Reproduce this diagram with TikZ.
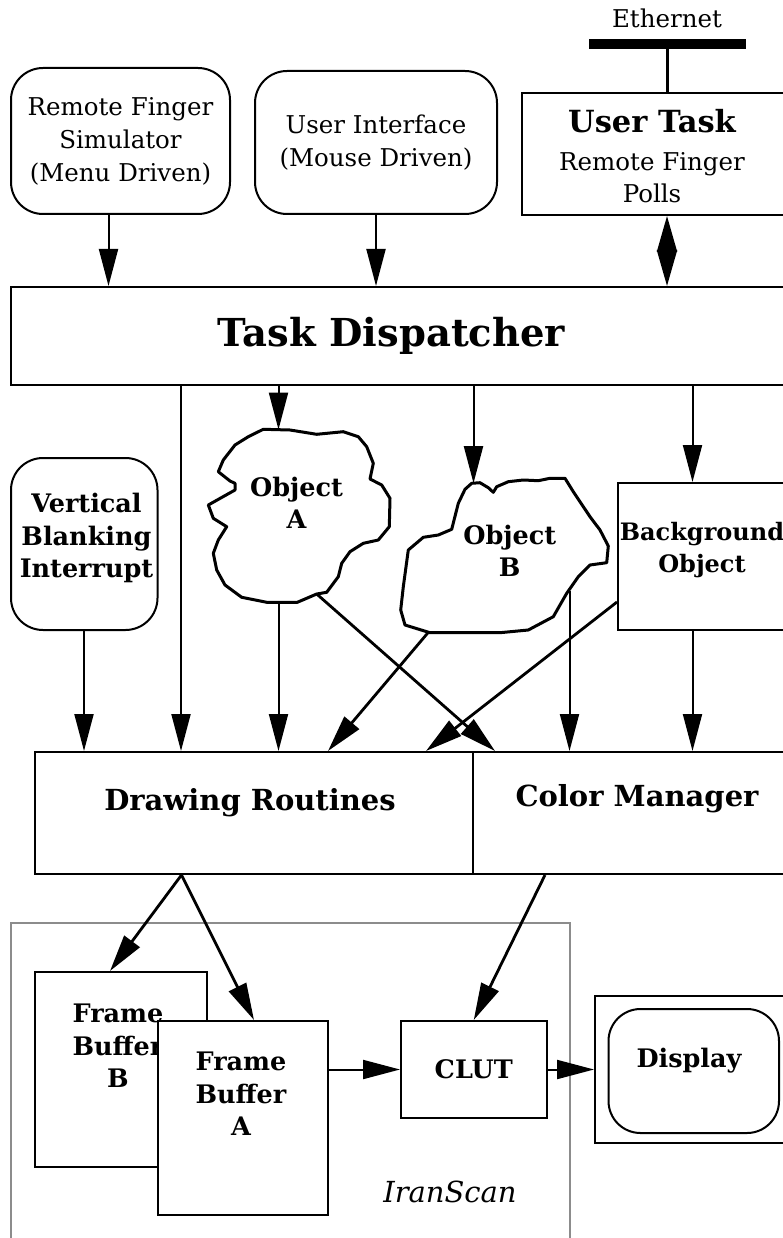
\documentclass[tikz,border=0pt]{standalone}
\usepackage{fontspec}
\setmainfont{DejaVu Serif}
\usetikzlibrary{arrows.meta}
\begin{document}
\begin{tikzpicture}[x=1pt,y=-1pt,
  bx/.style={draw, line width=2pt, fill=white, inner sep=0pt, align=center},
  rbx/.style={bx, rounded corners=32pt},
  txt/.style={align=center, inner sep=0pt},
  lbl/.style={txt, font=\fontsize{24.5}{33}\selectfont},
  blbl/.style={txt, font=\fontsize{25.5}{32.5}\selectfont\bfseries},
  mlbl/.style={txt, font=\fontsize{29}{34}\selectfont\bfseries},
  arr/.style={line width=2pt, -{Triangle[length=37pt,width=19pt]}},
  darr/.style={line width=2.8pt, -{Triangle[length=37pt,width=19pt]}},
  cloud/.style={line width=3pt, line join=round, fill=white}]
\useasboundingbox (0,0) rectangle (783,1238);
\clip (0,0) rectangle (783,1238);
\fill[white] (0,0) rectangle (783,1238);

% ---- top row ----
\node[rbx, minimum width=219pt, minimum height=146pt, lbl] (rfs) at (120.5,141)
  {Remote Finger\\Simulator\\(Menu Driven)};
\node[rbx, minimum width=242pt, minimum height=143pt, lbl] (ui) at (376,142.5)
  {User Interface\\(Mouse Driven)};
\node[bx, minimum width=262.5pt, minimum height=122pt] (ut) at (652.75,154) {};
\node[lbl, font=\fontsize{24.5}{32}\selectfont] (utt) at (652,156)
  {{\fontsize{30.5}{32}\selectfont\bfseries User Task}\\[6pt]
   Remote Finger\\Polls};
\node[fill=black, minimum width=157pt, minimum height=10pt, inner sep=0pt] (eth) at (667,44) {};
\node[lbl, anchor=base] (etht) at (667,28) {Ethernet};
\draw[line width=3pt] (eth.south) -- (eth.south |- ut.north);

% ---- task dispatcher ----
\node[bx, minimum width=789pt, minimum height=98pt] (td) at (405.5,336) {};
\node[txt, font=\fontsize{38.5}{42}\selectfont\bfseries] (tdt) at (391.5,336) {Task Dispatcher};

% ---- middle row ----
\node[rbx, minimum width=146.5pt, minimum height=172pt] (vbi) at (84.25,544) {};
\node[blbl] (vbit) at (86.5,538) {Vertical\\Blanking\\Interrupt};

\draw[cloud] (263.3,429.3) -- (290,430) -- (316.7,434.3) -- (343.3,431.7) -- (358.3,436.7)
  -- (366.7,446.7) -- (373.3,463.3) -- (370,479) -- (381.7,485) -- (390,498.3)
  -- (389.3,526.7) -- (378.3,540) -- (363.3,543.3) -- (350,551.7) -- (341.7,563.3)
  -- (338.3,576.7) -- (326.7,592.3) -- (316.7,594) -- (297.3,602.3) -- (266.7,602.3)
  -- (241.7,597.3) -- (225,585) -- (216.7,570) -- (213.3,553.3) -- (218.3,540)
  -- (226.7,526.7) -- (213.3,518.3) -- (208.3,505) -- (235,490) -- (235,483.3)
  -- (230,481) -- (218.3,471.7) -- (223.3,460) -- (235,445) -- (248.3,436.7) -- cycle;
\node[blbl] (objA) at (296.5,503) {Object\\A};
\coordinate (aT) at (278.5,429.6);
\coordinate (aB) at (278.5,602.3);
\coordinate (aBR) at (316.7,594);

\draw[cloud] (471.7,483.3) -- (480,482.7) -- (488.3,487.7) -- (493.3,492.3) -- (496.7,486.7)
  -- (508.3,481.7) -- (523.3,480) -- (538.3,480.7) -- (550,478.3) -- (565,478.3)
  -- (573.3,491.7) -- (590,516.7) -- (600,530) -- (608.3,546) -- (606.7,562.7)
  -- (590,565) -- (578.3,576.7) -- (566.7,593.3) -- (553.3,616.7) -- (528.3,630)
  -- (500,632.7) -- (430,632.7) -- (405,625) -- (400.7,610) -- (403.3,586.7)
  -- (408.3,550) -- (423.3,537.3) -- (438.3,535) -- (451.7,529.3) -- (458.3,503.3)
  -- (465,489.3) -- cycle;
\node[blbl] (objB) at (509.7,551) {Object\\B};
\coordinate (bT) at (473.5,483.2);
\coordinate (bBL) at (428,632.7);
\coordinate (bR) at (569.5,591);

\node[bx, minimum width=182pt, minimum height=147pt] (bg) at (709,556.5) {};
\node[blbl, font=\fontsize{24}{32}\selectfont\bfseries] (bgt) at (702,550) {Background\\Object};

% ---- drawing routines / color manager ----
\node[bx, minimum width=438pt, minimum height=122pt] (dr) at (254,813) {};
\node[mlbl] (drt) at (250,803) {Drawing Routines};
\node[bx, minimum width=327pt, minimum height=122pt] (cm) at (636.5,813) {};
\node[mlbl] (cmt) at (637,799) {Color Manager};

% ---- IranScan ----
\draw[line width=2pt, draw=black!45] (11,923) rectangle (570,1260);
\node[txt, anchor=base, font=\fontsize{29}{34}\selectfont\itshape] (iran) at (450,1202) {IranScan};
\node[bx, minimum width=171.5pt, minimum height=195pt] (fbB) at (120.75,1069.5) {};
\node[blbl] (fbBt) at (118,1046) {Frame\\Buffer\\B};
\node[bx, minimum width=170.5pt, minimum height=194pt] (fbA) at (242.75,1118) {};
\node[blbl] (fbAt) at (241,1094) {Frame\\Buffer\\A};
\node[bx, minimum width=145.5pt, minimum height=97pt, blbl] (clut) at (473.75,1069.5) {CLUT};

% ---- display ----
\node[bx, minimum width=210pt, minimum height=147pt] (dispo) at (700,1069.5) {};
\node[rbx, minimum width=170.5pt, minimum height=124pt] (disp) at (693.75,1071) {};
\node[blbl] (dispt) at (689,1061) {Display};

% ---- connectors ----
\coordinate (x1) at (108.5,0);
\coordinate (x2) at (181,0);
\coordinate (x3) at (692.5,0);
\coordinate (x4) at (84,0);
\coordinate (x5) at (495,0);
\coordinate (x6) at (328,0);
\coordinate (x7) at (426,0);
\coordinate (x8) at (181.5,0);
\coordinate (x9) at (110,0);
\coordinate (x10) at (254,0);
\coordinate (x11) at (545,0);

\draw[arr] (rfs.south -| x1) -- (td.north -| x1);
\draw[arr] (ui.south) -- (ui.south |- td.north);
\draw[line width=2pt, {Triangle[length=36pt,width=20pt]}-{Triangle[length=36pt,width=20pt]}]
  (ut.south -| eth) -- (td.north -| eth);

\draw[arr] (td.south -| x2) -- (dr.north -| x2);
\draw[arr] (td.south -| aT) -- (aT);
\draw[arr] (td.south -| bT) -- (bT);
\draw[arr] (td.south -| x3) -- (bg.north -| x3);

\draw[arr] (vbi.south -| x4) -- (dr.north -| x4);
\draw[arr] (aB) -- (dr.north -| aB);
\draw[darr] (aBR) -- (cm.north -| x5);
\draw[darr] (bBL) -- (dr.north -| x6);
\draw[arr] (bR) -- (cm.north -| bR);
\draw[darr] (bg.west |- 0,602) -- (dr.north -| x7);
\draw[arr] (bg.south -| x3) -- (cm.north -| x3);

\draw[darr] (dr.south -| x8) -- (fbB.north -| x9);
\draw[darr] (dr.south -| x8) -- (fbA.north -| x10);
\draw[darr] (cm.south -| x11) -- (clut.north);

\draw[arr] (fbA.east |- clut.west) -- (clut.west);
\draw[arr] (clut.east) -- (dispo.west);
\end{tikzpicture}
\end{document}
